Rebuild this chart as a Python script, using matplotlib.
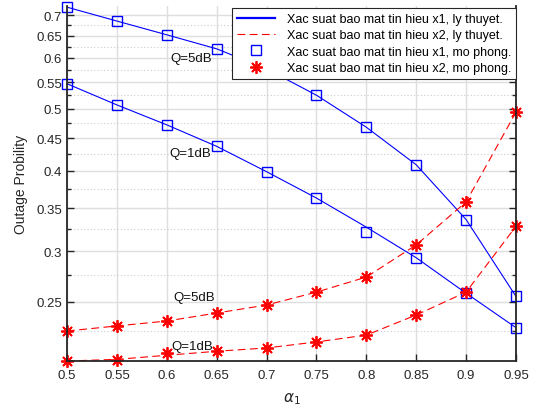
import numpy as np
import matplotlib
matplotlib.use("Agg")
import matplotlib.pyplot as plt
from matplotlib.ticker import FixedLocator, NullFormatter

plt.rcParams['font.family'] = ['Liberation Sans', 'DejaVu Sans']

# alpha_1 values
alpha1 = [0.5, 0.55, 0.6, 0.65, 0.7, 0.75, 0.8, 0.85, 0.9, 0.95]

# x1 theory / simulation, Q=5dB and Q=1dB
x1_q5_theory = [0.720, 0.685, 0.652, 0.620, 0.577, 0.525, 0.468, 0.409, 0.336, 0.255]
x1_q5_sim    = [0.720, 0.685, 0.652, 0.620, 0.577, 0.525, 0.468, 0.409, 0.336, 0.255]
x1_q1_theory = [0.547, 0.507, 0.472, 0.437, 0.399, 0.363, 0.327, 0.293, 0.258, 0.228]
x1_q1_sim    = [0.547, 0.507, 0.472, 0.438, 0.399, 0.363, 0.321, 0.293, 0.258, 0.228]

# x2 theory / simulation, Q=5dB and Q=1dB
x2_q5_theory = [0.2253, 0.2294, 0.2335, 0.2403, 0.2473, 0.259, 0.2734, 0.3068, 0.358, 0.494]
x2_q5_sim    = [0.2253, 0.2294, 0.2335, 0.2403, 0.2473, 0.259, 0.2734, 0.3068, 0.358, 0.494]
x2_q1_theory = [0.2023, 0.2035, 0.2065, 0.2095, 0.2120, 0.2166, 0.2220, 0.2386, 0.259, 0.328]
x2_q1_sim    = [0.2023, 0.2028, 0.2082, 0.2097, 0.2120, 0.2166, 0.2220, 0.2386, 0.259, 0.328]

major_ticks = [0.25, 0.3, 0.35, 0.4, 0.45, 0.5, 0.55, 0.6, 0.65, 0.7]
minor_ticks = [0.225, 0.275, 0.325, 0.375, 0.425, 0.475, 0.525, 0.575, 0.625, 0.675]

legend_labels = ["Xac suat bao mat tin hieu x1, ly thuyet.",
                 "Xac suat bao mat tin hieu x2, ly thuyet.",
                 "Xac suat bao mat tin hieu x1, mo phong.",
                 "Xac suat bao mat tin hieu x2, mo phong."]

fig = plt.figure(figsize=(5.37, 4.06), dpi=100)
ax = fig.add_axes([67/537, 1-362/406, 449/537, 355/406])

ax.set_yscale('log')

blue = '#0000ff'
red = '#ff0000'
asterisk = (8, 2, 0)

l1, = ax.plot(alpha1, x1_q5_theory, '-', color=blue, lw=0.8)
ax.plot(alpha1, x1_q1_theory, '-', color=blue, lw=0.8)
l2, = ax.plot(alpha1, x2_q5_theory, '--', color=red, lw=0.8, dashes=(7, 4))
ax.plot(alpha1, x2_q1_theory, '--', color=red, lw=0.8, dashes=(7, 4))
l3, = ax.plot(alpha1, x1_q5_sim, 's', color=blue, mfc='none', ms=6.5, mew=1.0, clip_on=False)
ax.plot(alpha1, x1_q1_sim, 's', color=blue, mfc='none', ms=6.5, mew=1.0, clip_on=False)
l4, = ax.plot(alpha1, x2_q5_sim, ls='none', marker=asterisk, color=red, ms=9, mew=1.3, clip_on=False)
ax.plot(alpha1, x2_q1_sim, ls='none', marker=asterisk, color=red, ms=9, mew=1.3, clip_on=False)

ax.text(0.624, 0.600, "Q=5dB", ha='center', va='center', fontsize=9.5, color='#111111')
ax.text(0.624, 0.427, "Q=1dB", ha='center', va='center', fontsize=9.5, color='#111111')
ax.text(0.627, 0.2545, "Q=5dB", ha='center', va='center', fontsize=9.5, color='#111111')
ax.text(0.626, 0.2134, "Q=1dB", ha='center', va='center', fontsize=9.5, color='#111111')

ax.set_xlim(0.5, 0.95)
ax.set_ylim(0.2023, 0.723)
ax.set_xticks(alpha1)
ax.set_xticklabels(["%g" % v for v in alpha1])
ax.yaxis.set_major_locator(FixedLocator(major_ticks))
ax.yaxis.set_minor_locator(FixedLocator(minor_ticks))
ax.set_yticklabels(["%g" % v for v in major_ticks])
ax.yaxis.set_minor_formatter(NullFormatter())

ax.grid(True, which='major', color='#dedede', lw=1.0, ls='-')
ax.grid(True, which='minor', axis='y', color='#cccccc', lw=0.8, ls=(0, (1, 2)))
ax.set_axisbelow(True)

ax.tick_params(which='both', direction='in', right=True, top=False,
               colors='#262626', labelsize=9.5, labelcolor='#262626')
ax.tick_params(which='major', length=5, width=1.0)
ax.tick_params(which='minor', length=3, width=1.0)
ax.tick_params(axis='x', pad=6)
for side in ['left', 'right', 'bottom']:
    ax.spines[side].set_color('#262626')
    ax.spines[side].set_linewidth(1.3)
ax.spines['top'].set_visible(False)

ax.set_xlabel(r'$\alpha_1$', fontsize=11, color='#262626')
ax.xaxis.set_label_coords(0.5, -0.082)
ax.set_ylabel("Outage Probility", fontsize=10, color='#262626')
ax.yaxis.set_label_coords(-0.087, 0.5)

leg = ax.legend([l1, l2, l3, l4], legend_labels, loc='upper right',
                bbox_to_anchor=(1.0, 1.0 - 2/355), fontsize=9, frameon=True,
                fancybox=False, edgecolor='#262626', framealpha=1.0,
                borderpad=0.4, labelspacing=0.35, handlelength=3.1,
                handletextpad=0.9, borderaxespad=0)
leg.get_frame().set_linewidth(0.8)
leg.get_lines()[0].set_linewidth(1.6)

fig.savefig("out.png", dpi=100)
